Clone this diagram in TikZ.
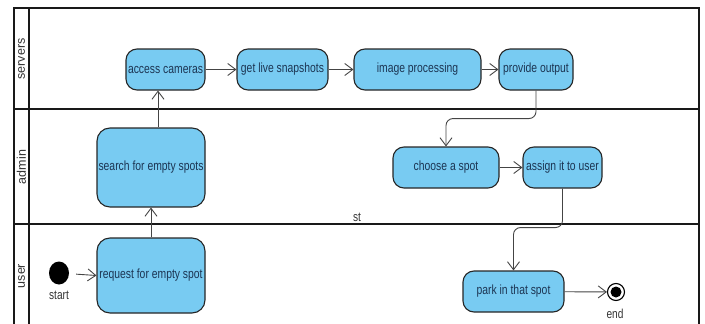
\documentclass[tikz,border=0pt]{standalone}
\usepackage{fontspec}
\setmainfont{Liberation Sans}[FakeStretch=0.78]
\newfontfamily\lanefont{Liberation Sans}
\usetikzlibrary{arrows.meta,calc,shapes.geometric}
\definecolor{nodefill}{HTML}{78CBF2}
\definecolor{nodetext}{HTML}{1C3553}
\definecolor{edgecol}{HTML}{444444}
\tikzset{
  act/.style={draw=black!85, line width=1.1pt, fill=nodefill, rounded corners=11pt,
    text=nodetext, font=\fontsize{13.3}{15}\selectfont, inner sep=1pt, align=center},
  arr/.style={draw=edgecol, line width=0.9pt, -{Straight Barb[length=8pt,width=12pt,line width=0.9pt]}},
  lane/.style={line width=1.6pt, draw=black!90},
  lanelabel/.style={rotate=90, font=\lanefont\fontsize{12.5}{14}\selectfont, text=black!80},
  small/.style={font=\fontsize{13}{15}\selectfont, text=black!80}
}
\begin{document}
\begin{tikzpicture}[x=1pt,y=-1pt]
\useasboundingbox (0,0) rectangle (705,324);
% swimlanes
\draw[lane] (14,324) -- (14,8) -- (699,8) -- (699,324);
\draw[lane] (29,8) -- (29,324);
\draw[lane] (14,109) -- (699,109);
\draw[lane] (14,224) -- (699,224);
\node[lanelabel] (lsrv) at (21.5,59) {servers};
\node[lanelabel] (ladm) at (21.5,167) {admin};
\node[lanelabel] (lusr) at (21.5,276) {user};
% activities
\node[act, minimum width=79pt, minimum height=41pt] (ac) at (165.5,69.5) {access cameras};
\node[act, minimum width=91pt, minimum height=41pt] (gs) at (282.5,69.5) {get live snapshots};
\node[act, minimum width=127pt, minimum height=41pt] (ip) at (417.5,69.5) {image processing};
\node[act, minimum width=74pt, minimum height=41pt] (po) at (536,69.5) {provide output};
\node[act, minimum width=108pt, minimum height=79pt, rounded corners=13pt] (se) at (151,167.5) {search for empty spots};
\node[act, minimum width=108pt, minimum height=75pt, rounded corners=13pt] (rq) at (151,275.5) {request for empty spot};
\node[act, minimum width=106pt, minimum height=41pt] (cs) at (446,167.5) {choose a spot};
\node[act, minimum width=79pt, minimum height=41pt] (as) at (562.5,167.5) {assign it to user};
\node[act, minimum width=101pt, minimum height=41pt] (pk) at (513.5,291.5) {park in that spot};
% start / end
\node[ellipse, fill=black, minimum width=20pt, minimum height=23pt, inner sep=0pt] (st) at (59,273) {};
\node[small] (stl) at (59,295) {start};
\node[circle, draw=black, line width=1.1pt, fill=white, minimum size=17pt, inner sep=0pt] (en) at (616,292) {};
\node[circle, fill=black, minimum size=11pt, inner sep=0pt] (enc) at (616,292) {};
\node[small] (enl) at (615,314) {end};
\node[small, fill=white, inner sep=1pt] (stt) at (357,217) {st};
% connectors
\draw[arr, shorten <=7pt] (st) -- (rq.west);
\draw[arr] (rq.north) -- (se.south);
\draw[arr] ([xshift=7pt]se.north) -- ([xshift=-7.5pt]ac.south);
\draw[arr] (ac) -- (gs);
\draw[arr] (gs) -- (ip);
\draw[arr] (ip) -- (po);
\draw[arr, rounded corners=7pt] (po.south) -- ++(0,28) -| (cs.north);
\draw[arr] (cs) -- (as);
\draw[arr, rounded corners=7pt] (as.south) -- ++(0,39) -| (pk.north);
\draw[arr] (pk) -- (en);
\end{tikzpicture}
\end{document}
